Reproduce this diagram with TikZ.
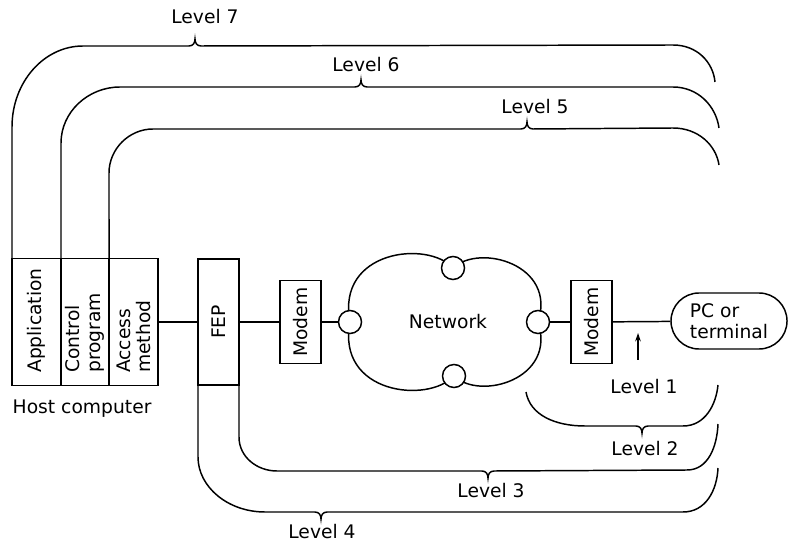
\documentclass[tikz,border=0pt]{standalone}
\usepackage{fontspec}
\setmainfont{DejaVu Sans}
\usetikzlibrary{arrows.meta, positioning}

% small brace tips on the level lines (x, y of the line)
\newcommand{\tipup}[2]{-- (#1-6,#2) .. controls (#1-2,#2) and (#1,#2-3) .. (#1,#2-7) .. controls (#1,#2-3) and (#1+2,#2) .. (#1+6,#2)}
\newcommand{\tipdown}[2]{-- (#1-6,#2) .. controls (#1-2,#2) and (#1,#2+3) .. (#1,#2+7) .. controls (#1,#2+3) and (#1+2,#2) .. (#1+6,#2)}

\begin{document}
\begin{tikzpicture}[x=0.025cm, y=-0.025cm, line width=1.05pt,
    font=\fontsize{13.3}{14.5}\selectfont,
    hostbox/.style={draw, minimum width=1.225cm, minimum height=3.175cm, inner sep=0pt, outer sep=0pt},
    modembox/.style={draw, minimum width=1.025cm, minimum height=2.075cm, inner sep=0pt, outer sep=0pt},
    port/.style={draw, circle, fill=white, minimum size=0.575cm, inner sep=0pt, outer sep=0pt},
    vtext/.style={rotate=90, anchor=west, inner sep=0pt, align=left}]
    \useasboundingbox (0,0) rectangle (788,543);

    % host computer
    \node[hostbox] (app) at (36.5,322) {};
    \node[hostbox, minimum width=1.2cm, right=0pt of app] (ctrl) {};
    \node[hostbox, right=0pt of ctrl] (acc) {};
    \node[vtext] (appT) at ([yshift=0.3cm]app.south) {Application};
    \node[vtext] (ctrlT) at ([yshift=0.3cm]ctrl.south) {Control\\program};
    \node[vtext] (accT) at ([yshift=0.3cm]acc.south) {Access\\method};
    \node[anchor=north west, inner sep=0pt] (host) at ([yshift=-0.35cm]app.south west) {Host computer};

    % FEP and modems
    \node[draw, minimum width=1.025cm, minimum height=3.15cm, inner sep=0pt, outer sep=0pt] (fep) at (218.5,322) {};
    \node[vtext, anchor=center] (fepT) at (fep) {FEP};
    \node[modembox] (modemA) at (300.5,322) {};
    \node[vtext, anchor=center] (modemAT) at (modemA) {Modem};
    \node[modembox] (modemB) at (591.5,322) {};
    \node[vtext, anchor=center] (modemBT) at (modemB) {Modem};
    \node[draw, rounded corners=0.7cm, minimum width=2.9cm, minimum height=1.4cm, align=left, inner sep=0pt] (pc) at (729,321) {PC or\\terminal};

    % network cloud
    \coordinate (pl) at (350,322);
    \coordinate (pt) at (453,268);
    \coordinate (pr) at (538,322);
    \coordinate (pb) at (454,376);
    \draw (pl) .. controls (336,250) and (428,240) .. (pt)
        .. controls (480,243) and (557,265) .. (pr)
        .. controls (557,379) and (480,401) .. (pb)
        .. controls (428,404) and (336,394) .. (pl);
    \node[port] (cl) at (pl) {};
    \node[port] (ct) at (pt) {};
    \node[port] (cr) at (pr) {};
    \node[port] (cb) at (pb) {};
    \node (net) at (448,322) {Network};

    % links
    \draw (acc) -- (fep);
    \draw (fep) -- (modemA);
    \draw (modemA) -- (cl);
    \draw (cr) -- (modemB);
    \draw (modemB) -- (pc);

    % upper levels
    \draw (app.north west) -- (12,127) .. controls (12,82) and (44,46) .. (83,46)
        \tipup{195}{46} -- (673,45) .. controls (697,45) and (713,62) .. (715,82);
    \draw (ctrl.north west) -- (61,143) .. controls (61,112) and (88,87) .. (120,87)
        \tipup{361}{87} -- (673,87) .. controls (698,87) and (716,106) .. (719,128);
    \draw (acc.north west) -- (109,173) .. controls (109,149) and (129,129) .. (153,129)
        \tipup{527}{129} -- (673,128) .. controls (698,128) and (716,145) .. (719,165);
    \node (lv7) at (205,17) {Level 7};
    \node (lv6) at (366,65) {Level 6};
    \node (lv5) at (535,107) {Level 5};

    % lower levels
    \coordinate (a1) at (638,360);
    \coordinate (a1tip) at (638,333);
    \draw[-{Stealth[length=6pt, width=4pt]}] (a1) -- (a1tip);
    \node (lv1) at (644,387) {Level 1};
    \draw (526,392) .. controls (530,415) and (555,426) .. (585,426)
        \tipdown{642}{426} -- (683,426) .. controls (705,426) and (716,405) .. (718,385);
    \node (lv2) at (645,449) {Level 2};
    \draw (fep.south east) -- (239,437) .. controls (239,457) and (257,471) .. (277,471)
        \tipdown{488}{471} -- (687,470) .. controls (708,470) and (717,447) .. (718,424);
    \node (lv3) at (491,491) {Level 3};
    \draw (fep.south west) -- (198,457) .. controls (198,487) and (228,512) .. (265,512)
        \tipdown{321}{512} -- (683,512) .. controls (706,512) and (717,490) .. (718,468);
    \node (lv4) at (322,532) {Level 4};
\end{tikzpicture}
\end{document}
